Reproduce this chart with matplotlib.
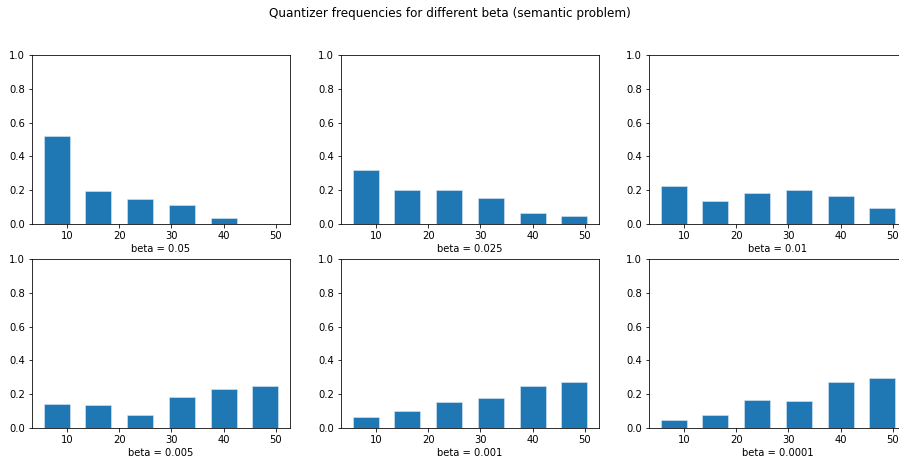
import matplotlib
matplotlib.use("Agg")
import matplotlib.pyplot as plt

# quantizer levels (bar centres) and frequencies for each beta
levels = [8, 16, 24, 32, 40, 48]
betas = ["0.05", "0.025", "0.01", "0.005", "0.001", "0.0001"]
freq_005 = [0.52, 0.194, 0.147, 0.114, 0.037, 0.0]
freq_0025 = [0.322, 0.204, 0.204, 0.153, 0.067, 0.049]
freq_001 = [0.222, 0.136, 0.181, 0.199, 0.165, 0.095]
freq_0005 = [0.143, 0.137, 0.078, 0.182, 0.228, 0.251]
freq_0001 = [0.066, 0.102, 0.153, 0.177, 0.246, 0.273]
freq_00001 = [0.048, 0.078, 0.165, 0.159, 0.273, 0.297]
freqs = [freq_005, freq_0025, freq_001, freq_0005, freq_0001, freq_00001]


def main():
    W, H = 899, 466
    fig = plt.figure(figsize=(W / 72, H / 72), dpi=72)
    fig.suptitle('Quantizer frequencies for different beta (semantic problem)',
                 y=0.985)

    lefts = [32, 341, 649]
    tops = [55, 259]
    aw, ah = 258, 169
    for i, (beta, f) in enumerate(zip(betas, freqs)):
        x0 = lefts[i % 3]
        y0 = tops[i // 3]
        ax = fig.add_axes([x0 / W, 1 - (y0 + ah) / H, aw / W, ah / H])
        ax.bar(levels, f, width=5, color='#1f77b4',
               edgecolor='#d6e6f2', linewidth=0.6)
        ax.set_ylim(0, 1)
        ax.set_xticks([10, 20, 30, 40, 50])
        ax.set_xlabel('beta = ' + beta, labelpad=3)

    fig.savefig('out.png', dpi=72)


if __name__ == "__main__":
    main()
